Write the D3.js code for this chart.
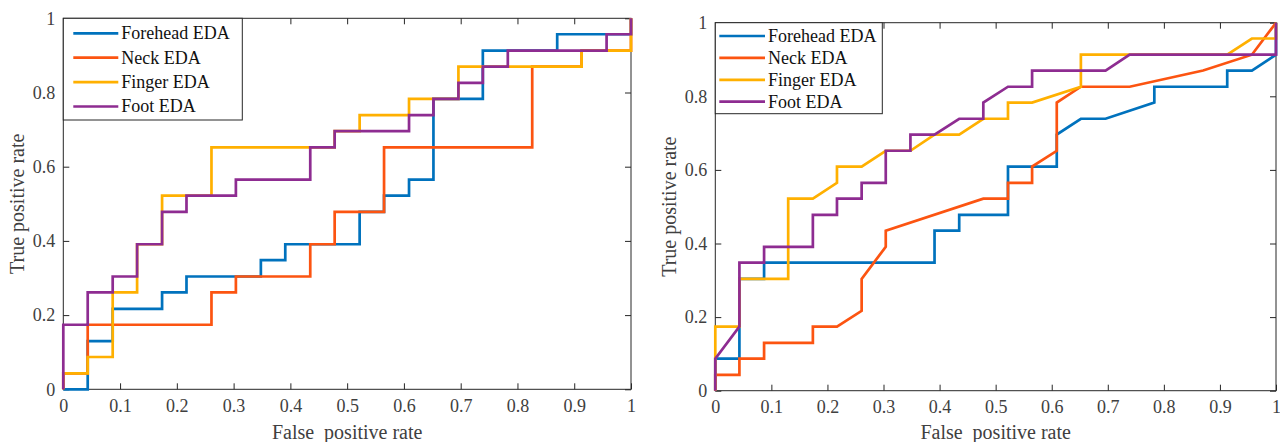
<!DOCTYPE html>
<html>
<head>
<meta charset="utf-8">
<script src="https://d3js.org/d3.v7.min.js"></script>
<style>
  body { margin: 0; background: #fff; }
  svg { display: block; }
  text { font-family: "Liberation Serif", "Times New Roman", serif; }
  .tick text { fill: #404040; font-size: 18px; }
  .tick line { stroke: #262626; }
  .frame { fill: none; stroke: #262626; stroke-width: 1; }
  .roc { fill: none; stroke-width: 2.7; stroke-linejoin: miter; }
  .axis-label { fill: #404040; font-size: 20px; }
  .legend-box { fill: #fff; stroke: #262626; stroke-width: 1; }
  .legend text { fill: #111; font-size: 18px; }
</style>
</head>
<body>
<div id="chart"></div>
<script>
// ROC points [false positive rate, true positive rate]
var leftForehead = [[0,0],[.043,0],[.043,.13],[.087,.13],[.087,.217],[.174,.217],[.174,.261],[.217,.261],[.217,.304],[.348,.304],[.348,.348],[.391,.348],[.391,.391],[.522,.391],[.522,.478],[.565,.478],[.565,.522],[.609,.522],[.609,.565],[.652,.565],[.652,.783],[.739,.783],[.739,.913],[.87,.913],[.87,.957],[1,.957],[1,1]];
var leftNeck = [[0,0],[0,.043],[.043,.043],[.043,.174],[.261,.174],[.261,.261],[.304,.261],[.304,.304],[.435,.304],[.435,.391],[.478,.391],[.478,.478],[.565,.478],[.565,.652],[.826,.652],[.826,.87],[.913,.87],[.913,.913],[1,.913],[1,1]];
var leftFinger = [[0,0],[0,.043],[.043,.043],[.043,.087],[.087,.087],[.087,.261],[.13,.261],[.13,.391],[.174,.391],[.174,.522],[.261,.522],[.261,.652],[.478,.652],[.478,.696],[.522,.696],[.522,.739],[.609,.739],[.609,.783],[.696,.783],[.696,.87],[.913,.87],[.913,.913],[1,.913],[1,.957],[1,1]];
var leftFoot = [[0,0],[0,.174],[.043,.174],[.043,.261],[.087,.261],[.087,.304],[.13,.304],[.13,.391],[.174,.391],[.174,.478],[.217,.478],[.217,.522],[.304,.522],[.304,.565],[.435,.565],[.435,.652],[.478,.652],[.478,.696],[.609,.696],[.609,.739],[.652,.739],[.652,.783],[.696,.783],[.696,.826],[.739,.826],[.739,.87],[.783,.87],[.783,.913],[.957,.913],[.957,.957],[1,.957],[1,1]];

var rightForehead = [[0,0],[0,.087],[.043,.087],[.043,.304],[.087,.304],[.087,.348],[.391,.348],[.391,.435],[.435,.435],[.435,.478],[.522,.478],[.522,.609],[.609,.609],[.609,.696],[.652,.739],[.696,.739],[.783,.783],[.783,.826],[.913,.826],[.913,.87],[.957,.87],[1,.913],[1,1]];
var rightNeck = [[0,0],[0,.043],[.043,.043],[.043,.087],[.087,.087],[.087,.13],[.174,.13],[.174,.174],[.217,.174],[.261,.217],[.261,.304],[.304,.391],[.304,.435],[.478,.522],[.522,.522],[.522,.565],[.565,.565],[.565,.609],[.609,.652],[.609,.783],[.652,.826],[.739,.826],[.87,.87],[.957,.913],[1,1]];
var rightFinger = [[0,0],[0,.174],[.043,.174],[.043,.304],[.13,.304],[.13,.522],[.174,.522],[.217,.565],[.217,.609],[.261,.609],[.304,.652],[.348,.652],[.391,.696],[.435,.696],[.478,.739],[.522,.739],[.522,.783],[.565,.783],[.652,.826],[.652,.913],[.913,.913],[.957,.957],[1,.957],[1,1]];
var rightFoot = [[0,0],[0,.087],[.043,.174],[.043,.348],[.087,.348],[.087,.391],[.174,.391],[.174,.478],[.217,.478],[.217,.522],[.261,.522],[.261,.565],[.304,.565],[.304,.652],[.348,.652],[.348,.696],[.391,.696],[.435,.739],[.478,.739],[.478,.783],[.522,.826],[.565,.826],[.565,.87],[.696,.87],[.739,.913],[1,.913],[1,1]];

var seriesNames = ["Forehead EDA", "Neck EDA", "Finger EDA", "Foot EDA"];
var seriesColors = ["#0072BD", "#FC5411", "#FFB000", "#8E2C91"];
var xTicks = [0, 0.1, 0.2, 0.3, 0.4, 0.5, 0.6, 0.7, 0.8, 0.9, 1];
var yTicks = [0, 0.2, 0.4, 0.6, 0.8, 1];

var svg = d3.select("#chart").append("svg")
    .attr("width", 1280)
    .attr("height", 442);

var serif = "Liberation Serif, Times New Roman, serif";

function styleAxis(a) {
    a.attr("font-family", serif).attr("font-size", 18);
    a.select(".domain").remove();
}

function drawPanel(p) {
    var x = d3.scaleLinear().domain([0, 1]).range([p.left, p.right]);
    var y = d3.scaleLinear().domain([0, 1]).range([p.bottom, p.top]);
    var g = svg.append("g");

    g.append("g")
        .attr("transform", "translate(0," + p.bottom + ")")
        .call(d3.axisBottom(x).tickValues(xTicks).tickSize(-6).tickPadding(10).tickFormat(d3.format("~g")))
        .call(styleAxis);
    g.append("g")
        .attr("transform", "translate(" + p.left + ",0)")
        .call(d3.axisLeft(y).tickValues(yTicks).tickSize(-6).tickPadding(8).tickFormat(d3.format("~g")))
        .call(styleAxis);
    g.append("g")
        .attr("transform", "translate(0," + p.top + ")")
        .call(d3.axisTop(x).tickValues(xTicks).tickSize(-6).tickFormat(""))
        .call(styleAxis);
    g.append("g")
        .attr("transform", "translate(" + p.right + ",0)")
        .call(d3.axisRight(y).tickValues(yTicks).tickSize(-6).tickFormat(""))
        .call(styleAxis);

    g.append("rect").attr("class", "frame")
        .attr("x", p.left).attr("y", p.top)
        .attr("width", p.right - p.left).attr("height", p.bottom - p.top);

    var line = d3.line()
        .x(function(d) { return x(d[0]); })
        .y(function(d) { return y(d[1]); });

    p.series.forEach(function(s, i) {
        g.append("path")
            .datum(s)
            .attr("class", "roc")
            .attr("stroke", seriesColors[i])
            .attr("d", line);
    });

    g.append("text").attr("class", "axis-label")
        .attr("x", (p.left + p.right) / 2).attr("y", 439)
        .attr("text-anchor", "middle")
        .attr("xml:space", "preserve")
        .text("False  positive rate");
    g.append("text").attr("class", "axis-label")
        .attr("transform", "translate(" + p.ylabelX + "," + (p.top + p.bottom) / 2 + ") rotate(-90)")
        .attr("text-anchor", "middle")
        .text("True positive rate");

    // legend in the upper left corner
    var lg = g.append("g").attr("class", "legend");
    lg.append("rect").attr("class", "legend-box")
        .attr("x", p.left).attr("y", p.top)
        .attr("width", p.legendW).attr("height", p.legendH);
    seriesNames.forEach(function(name, i) {
        var cy = p.top + p.legendRow0 + i * p.legendStep;
        lg.append("line")
            .attr("x1", p.left + p.legendLine[0]).attr("x2", p.left + p.legendLine[1])
            .attr("y1", cy).attr("y2", cy)
            .attr("stroke", seriesColors[i]).attr("stroke-width", 2.7);
        lg.append("text")
            .attr("x", p.left + p.legendLine[1] + 3).attr("y", cy)
            .attr("dy", "0.33em")
            .text(name);
    });
}

drawPanel({
    left: 63.3, right: 631, top: 18.3, bottom: 389.3, ylabelX: 24,
    legendW: 179, legendH: 101.7, legendRow0: 15, legendStep: 24.4, legendLine: [10, 55],
    series: [leftForehead, leftNeck, leftFinger, leftFoot]
});
drawPanel({
    left: 715.3, right: 1276, top: 22.7, bottom: 390.7, ylabelX: 676,
    legendW: 167, legendH: 91, legendRow0: 13.3, legendStep: 21.9, legendLine: [4, 49.7],
    series: [rightForehead, rightNeck, rightFinger, rightFoot]
});
</script>
</body>
</html>
